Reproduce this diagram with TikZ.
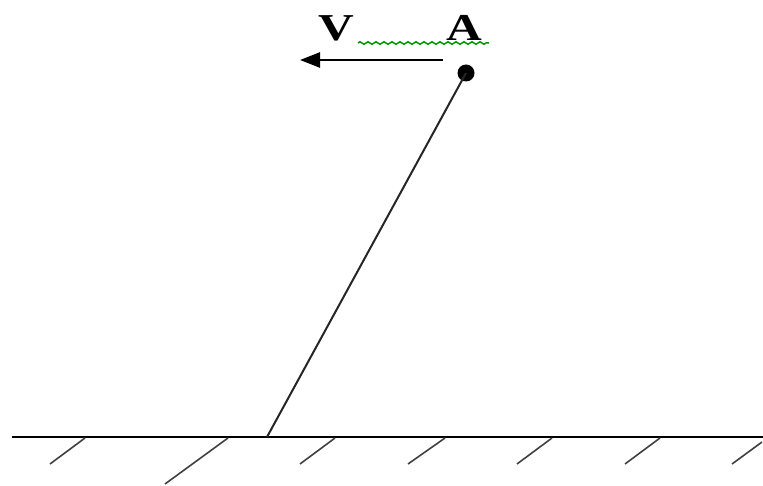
\documentclass[tikz,border=0pt]{standalone}
\usepackage{fontspec}
\setmainfont{Liberation Serif}
\usetikzlibrary{arrows.meta,decorations.pathmorphing}
\tikzset{
  ground/.style={line width=2.6pt,black},
  hatch/.style={line width=1.6pt,black!75},
  rod/.style={line width=2pt,black!85},
  vel/.style={line width=2.6pt,-{Triangle[length=20pt,width=15pt]}},
  lbl/.style={font=\bfseries\fontsize{38}{40}\selectfont,inner sep=0pt,xscale=1.3},
  squig/.style={green!60!black,line width=1.5pt,decorate,decoration={zigzag,segment length=8pt,amplitude=1.2pt}}
}
\begin{document}
\begin{tikzpicture}[x=1pt,y=-1pt]
\useasboundingbox (0,0) rectangle (763,486);
% ground
\coordinate (gL) at (12,437);
\coordinate (gR) at (763,437);
\draw[ground] (gL) -- (gR);
\foreach \a/\b/\c/\d in {85/438/50/464, 228/438/165/484, 335/438/300/464, 445/438/408/464, 552/438/517/464, 660/438/625/464, 762/442/732/464}
  \draw[hatch] (\a,\b) -- (\c,\d);
% rod
\coordinate (B) at (267,437);
\node[circle,fill=black,minimum size=17pt,inner sep=0pt] (A) at (466,73) {};
\draw[rod] (B) -- (A.center);
% velocity
\coordinate (v0) at (443,60);
\coordinate (v1) at (300,60);
\draw[vel] (v0) -- (v1);
% labels
\node[lbl] (Vl) at (336,28) {V};
\node[lbl] (Al) at (464,28) {A};
\coordinate (s0) at (358,43);
\coordinate (s1) at (489,43);
\draw[squig] (s0) -- (s1);
\end{tikzpicture}
\end{document}
